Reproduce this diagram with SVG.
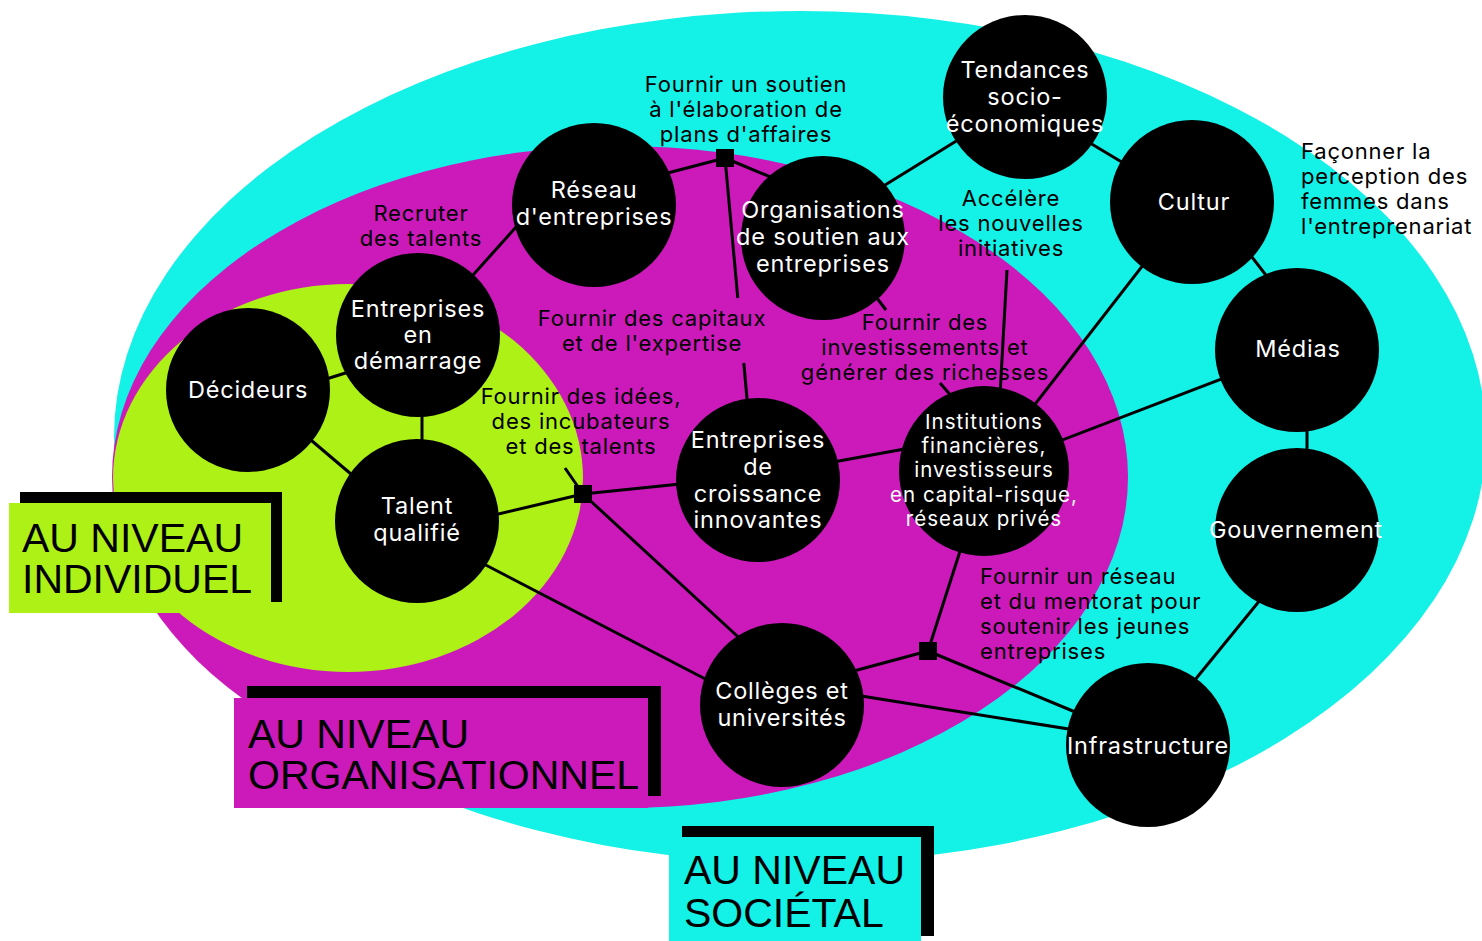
<svg xmlns="http://www.w3.org/2000/svg" width="1482" height="941" viewBox="0 0 1482 941">
<style>
.cy{fill:#14F1E7}.mg{fill:#CB19BA}.gr{fill:#ADF116}
.ln{stroke:#000;stroke-width:3;fill:none}
.nd{fill:#000}
.nt{font-family:Inter,"Noto Sans",sans-serif;font-size:23.5px;letter-spacing:0.8px;fill:#fff;text-anchor:middle}
.nts{font-family:Inter,"Noto Sans",sans-serif;font-size:20.5px;letter-spacing:1px;fill:#fff;text-anchor:middle}
.lb{font-family:Inter,"Noto Sans",sans-serif;font-size:22px;letter-spacing:0.8px;fill:#000;text-anchor:middle}
.lbl{font-family:Inter,"Noto Sans",sans-serif;font-size:22px;letter-spacing:0.8px;fill:#000}
.bx{font-family:"Liberation Sans",Arial,sans-serif;font-size:41px;fill:#000}
</style>
<rect width="1482" height="941" fill="#fff"/>
<g id="zones">
<ellipse class="cy" cx="800" cy="437" rx="686" ry="426"/>
<ellipse class="mg" cx="620" cy="477" rx="508" ry="331"/>
<ellipse class="gr" cx="348" cy="478" rx="235" ry="194"/>
</g>
<g id="connectors">
<line class="ln" x1="465" y1="284" x2="525" y2="217"/>
<line class="ln" x1="320" y1="381" x2="355" y2="370"/>
<line class="ln" x1="305" y1="435" x2="358" y2="480"/>
<line class="ln" x1="422" y1="410" x2="422" y2="447"/>
<line class="ln" x1="660" y1="175" x2="725" y2="158"/>
<line class="ln" x1="725" y1="158" x2="780" y2="181"/>
<line class="ln" x1="725" y1="158" x2="737.8" y2="298"/>
<line class="ln" x1="743.8" y1="363" x2="748" y2="410"/>
<line class="ln" x1="870" y1="289" x2="886" y2="310"/>
<line class="ln" x1="940" y1="383" x2="960" y2="406"/>
<line class="ln" x1="877" y1="190" x2="966" y2="135"/>
<line class="ln" x1="1085" y1="140" x2="1130" y2="167"/>
<line class="ln" x1="1245" y1="248" x2="1272" y2="283"/>
<line class="ln" x1="1192" y1="202" x2="984" y2="470"/>
<line class="ln" x1="1297" y1="350" x2="984" y2="470"/>
<line class="ln" x1="1307" y1="420" x2="1307" y2="460"/>
<line class="ln" x1="1265" y1="594" x2="1190" y2="686"/>
<line class="ln" x1="1007" y1="270" x2="1000" y2="395"/>
<line class="ln" x1="828" y1="463" x2="910" y2="448"/>
<line class="ln" x1="583" y1="494" x2="690" y2="483"/>
<line class="ln" x1="490" y1="516" x2="583" y2="494"/>
<line class="ln" x1="565" y1="468" x2="583" y2="494"/>
<line class="ln" x1="583" y1="494" x2="748" y2="646"/>
<line class="ln" x1="478" y1="561" x2="715" y2="684"/>
<line class="ln" x1="850" y1="672" x2="928" y2="651"/>
<line class="ln" x1="962" y1="545" x2="928" y2="651"/>
<line class="ln" x1="928" y1="651" x2="1080" y2="714"/>
<line class="ln" x1="855" y1="695" x2="1075" y2="730"/>
<rect x="716" y="149" width="18" height="18" fill="#000"/>
<rect x="574" y="485" width="18" height="18" fill="#000"/>
<rect x="919" y="642" width="18" height="18" fill="#000"/>
</g>
<g id="n-tendances"><circle class="nd" cx="1025" cy="97" r="82"/><text class="nt" x="1025" y="78">Tendances</text><text class="nt" x="1025" y="105">socio-</text><text class="nt" x="1025" y="132">économiques</text></g>
<g id="n-reseau"><circle class="nd" cx="594" cy="205" r="82"/><text class="nt" x="594" y="198">Réseau</text><text class="nt" x="594" y="225">d'entreprises</text></g>
<g id="n-organisations"><circle class="nd" cx="823" cy="238" r="82"/><text class="nt" x="823" y="218">Organisations</text><text class="nt" x="823" y="245">de soutien aux</text><text class="nt" x="823" y="272">entreprises</text></g>
<g id="n-cultur"><circle class="nd" cx="1192" cy="202" r="82"/><text class="nt" x="1194" y="210">Cultur</text></g>
<g id="n-medias"><circle class="nd" cx="1297" cy="350" r="82"/><text class="nt" x="1298" y="357">Médias</text></g>
<g id="n-gouvernement"><circle class="nd" cx="1297" cy="530" r="82"/><text class="nt" x="1296" y="538">Gouvernement</text></g>
<g id="n-demarrage"><circle class="nd" cx="418" cy="335" r="82"/><text class="nt" x="418" y="317">Entreprises</text><text class="nt" x="418" y="343">en</text><text class="nt" x="418" y="369">démarrage</text></g>
<g id="n-decideurs"><circle class="nd" cx="248" cy="390" r="82"/><text class="nt" x="248" y="398">Décideurs</text></g>
<g id="n-talent"><circle class="nd" cx="417" cy="521" r="82"/><text class="nt" x="417" y="514">Talent</text><text class="nt" x="417" y="541">qualifié</text></g>
<g id="n-croissance"><circle class="nd" cx="758" cy="480" r="82"/><text class="nt" x="758" y="448">Entreprises</text><text class="nt" x="758" y="475">de</text><text class="nt" x="758" y="502">croissance</text><text class="nt" x="758" y="528">innovantes</text></g>
<g id="n-institutions"><circle class="nd" cx="984" cy="471" r="85"/><text class="nts" x="984" y="429">Institutions</text><text class="nts" x="984" y="453">financières,</text><text class="nts" x="984" y="477">investisseurs</text><text class="nts" x="984" y="502">en capital-risque,</text><text class="nts" x="984" y="526">réseaux privés</text></g>
<g id="n-colleges"><circle class="nd" cx="782" cy="705" r="82"/><text class="nt" x="782" y="699">Collèges et</text><text class="nt" x="782" y="726">universités</text></g>
<g id="n-infrastructure"><circle class="nd" cx="1148" cy="745" r="82"/><text class="nt" x="1148" y="754">Infrastructure</text></g>
<g id="labels">
<text class="lb" x="746" y="92">Fournir un soutien</text><text class="lb" x="746" y="117">à l'élaboration de</text><text class="lb" x="746" y="142">plans d'affaires</text>
<text class="lb" x="421" y="221">Recruter</text><text class="lb" x="421" y="246">des talents</text>
<text class="lb" x="652" y="326">Fournir des capitaux</text><text class="lb" x="652" y="351">et de l'expertise</text>
<text class="lb" x="925" y="330">Fournir des</text><text class="lb" x="925" y="355">investissements et</text><text class="lb" x="925" y="380">générer des richesses</text>
<text class="lb" x="1011" y="206">Accélère</text><text class="lb" x="1011" y="231">les nouvelles</text><text class="lb" x="1011" y="256">initiatives</text>
<text class="lb" x="581" y="404">Fournir des idées,</text><text class="lb" x="581" y="429">des incubateurs</text><text class="lb" x="581" y="454">et des talents</text>
<text class="lbl" x="980" y="584">Fournir un réseau</text><text class="lbl" x="980" y="609">et du mentorat pour</text><text class="lbl" x="980" y="634">soutenir les jeunes</text><text class="lbl" x="980" y="659">entreprises</text>
<text class="lbl" x="1301" y="159">Façonner la</text><text class="lbl" x="1301" y="184">perception des</text><text class="lbl" x="1301" y="209">femmes dans</text><text class="lbl" x="1301" y="234">l'entreprenariat</text>
</g>
<g id="box-individuel">
<rect x="20" y="492" width="262" height="110" fill="#000"/>
<rect x="9" y="503" width="262" height="110" class="gr"/>
<text class="bx" x="22" y="552">AU NIVEAU</text><text class="bx" x="22" y="593">INDIVIDUEL</text>
</g>
<g id="box-organisationnel">
<rect x="247" y="686" width="414" height="110" fill="#000"/>
<rect x="234" y="698" width="414" height="110" class="mg"/>
<text class="bx" x="248" y="748">AU NIVEAU</text><text class="bx" x="248" y="789">ORGANISATIONNEL</text>
</g>
<g id="box-societal">
<rect x="682" y="826" width="252" height="110" fill="#000"/>
<rect x="669" y="837" width="252" height="104" class="cy"/>
<text class="bx" x="684" y="884">AU NIVEAU</text><text class="bx" x="684" y="927">SOCIÉTAL</text>
</g>
</svg>
